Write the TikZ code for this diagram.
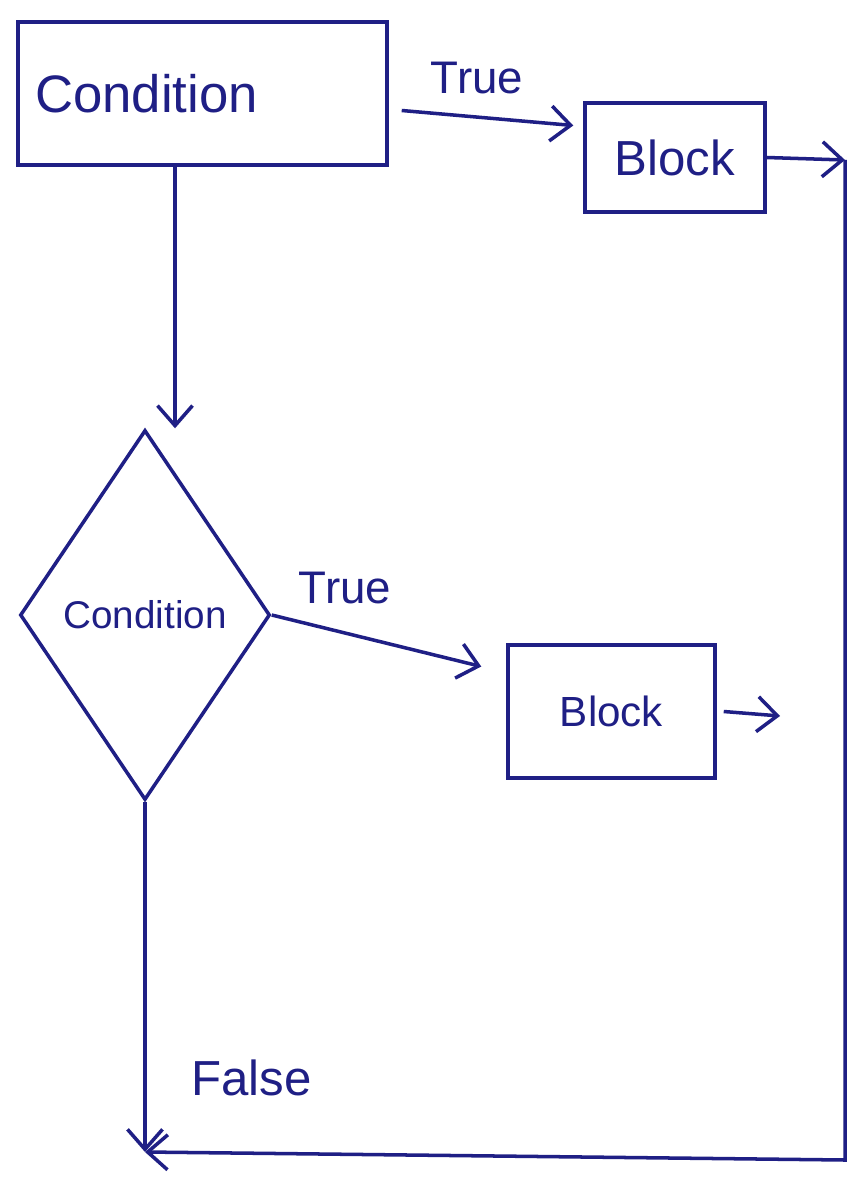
\documentclass[tikz,border=0pt]{standalone}
\usepackage{fontspec}
\setmainfont{Liberation Sans}
\usetikzlibrary{shapes.geometric,arrows.meta,positioning,calc}
\definecolor{fcink}{rgb}{0.12,0.12,0.52}

\begin{document}
\begin{tikzpicture}[
  x=0.02cm, y=-0.02cm,
  line width=2pt, draw=fcink, text=fcink,
  cond/.style={draw, rectangle, minimum height=2.86cm, text width=6.7cm,
               inner xsep=0.34cm, align=left, font=\fontsize{30}{34}\selectfont},
  block/.style={draw, rectangle, inner sep=2pt},
  decision/.style={draw, diamond, minimum width=5cm, minimum height=7.4cm,
                   inner sep=0pt, font=\fontsize{22}{26}\selectfont},
  lbl/.style={font=\fontsize{26}{30}\selectfont, inner sep=1pt},
  arr/.style={-{Straight Barb[length=4mm,width=7mm]}, line width=2pt}
]
\fill[white] (0,0) rectangle (866,1192);
\useasboundingbox (0,0) rectangle (866,1192);

% --- first test and its true branch ---
\node[cond] (cond1) at (202.5,93.5) {Condition};
\node[block, minimum width=3.6cm, minimum height=2.18cm,
      font=\fontsize{28}{32}\selectfont] (blk1) at (675,157.5) {Block};
\draw[arr] ([xshift=0.26cm,yshift=-0.34cm]cond1.east)
  -- ([xshift=-0.2cm,yshift=0.64cm]blk1.west);
\node[lbl] (t1) at (477,78) {True};

% --- return line on the right ---
\coordinate (rtop) at (845,160);
\coordinate (rbot) at (845,1160);
\coordinate (join) at (145,1152);
\draw[arr] (blk1.east) -- (rtop);
\draw[arr] (rtop) -- (rbot) -- (join);

% --- second test ---
\node[decision] (dia) at (145,615) {Condition};
\coordinate (down) at ([xshift=-0.55cm]cond1.south);
\draw[arr] (down) -- (down |- dia.north);

\node[block, minimum width=4.14cm, minimum height=2.66cm,
      font=\fontsize{24}{28}\selectfont] (blk2) at (611.5,711.5) {Block};
\draw[arr] (dia.east) -- ([xshift=-0.5cm,yshift=0.9cm]blk2.west);
\node[lbl] (t2) at (345,588) {True};

\coordinate (b2out) at (780,716);
\draw[arr] ([xshift=0.14cm]blk2.east) -- (b2out);

% --- false branch ---
\draw[arr] (dia.south) -- (join);
\node[lbl, anchor=west, font=\fontsize{28}{32}\selectfont] (f1) at (188,1078) {False};

\end{tikzpicture}
\end{document}
